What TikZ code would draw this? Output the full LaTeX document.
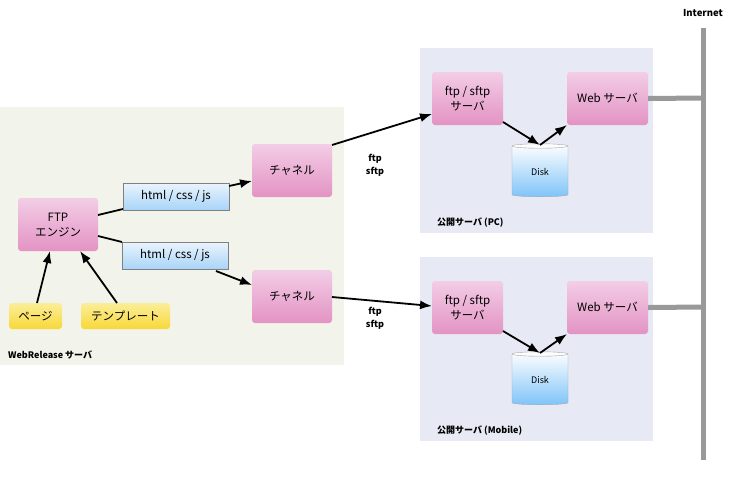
\documentclass[tikz,border=0pt]{standalone}
\usepackage{fontspec}
\setmainfont{Noto Sans CJK JP}
\usetikzlibrary{shapes.geometric,arrows.meta}
\definecolor{pinkT}{HTML}{F3CDE6}\definecolor{pinkB}{HTML}{E393C3}
\definecolor{yelT}{HTML}{FBEE9A}\definecolor{yelB}{HTML}{F8D838}
\definecolor{bluT}{HTML}{EAF4FD}\definecolor{bluB}{HTML}{A8D4F8}
\definecolor{diskB}{HTML}{7FC4F8}
\begin{document}
\begin{tikzpicture}[x=1pt,y=-1pt,font=\fontsize{11.5}{15}\selectfont,
 box/.style={rounded corners=3pt,top color=pinkT,bottom color=pinkB,align=center,inner sep=0pt},
 ybox/.style={rounded corners=3pt,top color=yelT,bottom color=yelB,align=center,inner sep=0pt},
 hbox/.style={top color=bluT,bottom color=bluB,draw=gray,line width=0.8pt,inner sep=0pt},
 disk/.style={cylinder,shape border rotate=90,aspect=0.25,minimum width=56pt,minimum height=53pt,top color=white,bottom color=diskB,draw=gray!70,font=\fontsize{9}{11}\selectfont,inner sep=0pt},
 arr/.style={-{Latex[length=12pt,width=9pt]},line width=1.8pt},
 ln/.style={line width=1.8pt},
 lbl/.style={font=\fontsize{9}{11}\selectfont\bfseries,anchor=west,inner sep=0pt},
 net/.style={line width=5pt,color=gray!80}]
\useasboundingbox (0,0) rectangle (738,483);
\fill[fill=white] (0,0) rectangle (738,483);
\fill[color={rgb,255:red,242;green,243;blue,234}] (0,107) rectangle (344,365);
\fill[color={rgb,255:red,231;green,234;blue,244}] (420,48) rectangle (653,233);
\fill[color={rgb,255:red,231;green,234;blue,244}] (420,257) rectangle (653,441);
\node[box,minimum width=80pt,minimum height=53pt] (ftp) at (58,224.5) {FTP\\エンジン};
\node[ybox,minimum width=53pt,minimum height=26pt] (page) at (35.5,316) {ページ};
\node[ybox,minimum width=89pt,minimum height=26pt] (tpl) at (125.5,316) {テンプレート};
\node[hbox,minimum width=106pt,minimum height=27pt] (h1) at (176,196.5) {html / css / js};
\node[hbox,minimum width=106pt,minimum height=27pt] (h2) at (175,255.5) {html / css / js};
\node[box,minimum width=80pt,minimum height=53pt] (c1) at (292,170.5) {チャネル};
\node[box,minimum width=80pt,minimum height=53pt] (c2) at (292,296.5) {チャネル};
\node[lbl] (wr) at (8,355) {WebRelease サーバ};
% PC
\node[box,minimum width=71pt,minimum height=53pt] (f1) at (467.5,98.5) {ftp / sftp\\サーバ};
\node[box,minimum width=81pt,minimum height=53pt] (w1) at (607.5,98.5) {Web サーバ};
\node[disk] (d1) at (540,171.5) {Disk};
\node[lbl] (p1) at (437,223) {公開サーバ (PC)};
% Mobile
\node[box,minimum width=71pt,minimum height=53pt] (f2) at (467.5,307.5) {ftp / sftp\\サーバ};
\node[box,minimum width=81pt,minimum height=53pt] (w2) at (607.5,307.5) {Web サーバ};
\node[disk] (d2) at (540,379.5) {Disk};
\node[lbl] (p2) at (437,431) {公開サーバ (Mobile)};
% Internet
\node[font=\fontsize{9.5}{11}\selectfont\bfseries,inner sep=0pt] (inet) at (703,13) {Internet};
\coordinate (it) at (703,28); \coordinate (ib) at (703,460);
\draw[net] (it) -- (ib);
\coordinate (j1) at (703,98); \coordinate (j2) at (703,307);
\draw[net] (w1.east) -- (j1);
\draw[net] (w2.east) -- (j2);
% arrows
\draw[arr] (37,303) -- (50,251);
\draw[arr] (117,303) -- (80,251);
\draw[ln] (98,215) -- (123,209);
\draw[arr] (229,186) -- (252,181);
\draw[ln] (98,236) -- (122,242);
\draw[arr] (216,271) -- (252,285);
\draw[arr] (332,145) -- (432,114);
\draw[arr] (332,297) -- (432,306);
\node[font=\fontsize{9}{13}\selectfont\bfseries,align=center] (s1) at (375,165) {ftp\\sftp};
\node[font=\fontsize{9}{13}\selectfont\bfseries,align=center] (s2) at (375,318) {ftp\\sftp};
\draw[arr] (503,122) -- (540,145);
\draw[arr] (540,145) -- (567,125);
\draw[arr] (503,331) -- (540,353);
\draw[arr] (540,353) -- (567,334);
\end{tikzpicture}
\end{document}
